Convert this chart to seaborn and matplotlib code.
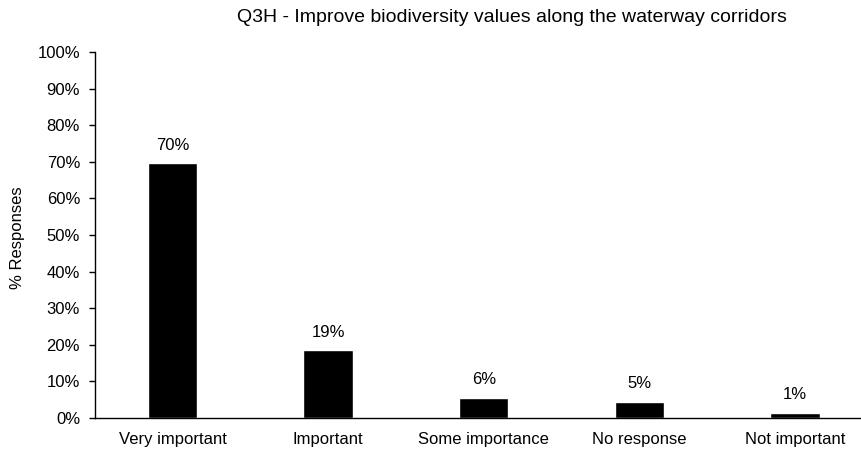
import matplotlib
matplotlib.use("Agg")
import matplotlib.pyplot as plt
import seaborn as sns
import pandas as pd
from matplotlib.ticker import PercentFormatter

# Survey responses
categories = ["Very important", "Important", "Some importance", "No response", "Not important"]
values = [69.6, 18.5, 5.5, 4.4, 1.4]
labels = ["70%", "19%", "6%", "5%", "1%"]

df = pd.DataFrame({"Category": categories, "Percent": values})

sns.set_style("white")
plt.rcParams["font.family"] = ["Liberation Sans", "DejaVu Sans"]
plt.rcParams["font.size"] = 12
plt.rcParams["text.color"] = "black"
plt.rcParams["axes.labelcolor"] = "black"
plt.rcParams["xtick.color"] = "black"
plt.rcParams["ytick.color"] = "black"

fig = plt.figure(figsize=(8.61, 4.5), dpi=100)
ax = fig.add_axes([94.7 / 861, 1 - 417.7 / 450, 778 / 861, 365.4 / 450])

sns.barplot(x="Category", y="Percent", data=df, color="black", width=0.318,
            saturation=1, ax=ax)

for i, lab in enumerate(labels):
    ax.text(i, values[i] + 2.8, lab, ha="center", va="bottom", fontsize=12, color="black")

ax.set_ylim(0, 100)
ax.set_xlim(-0.5, 4.5)
ax.set_yticks(range(0, 101, 10))
ax.yaxis.set_major_formatter(PercentFormatter(decimals=0))
ax.set_xlabel("")
ax.set_ylabel("% Responses", fontsize=12)
ax.yaxis.set_label_coords(-0.0896, 0.494)
ax.tick_params(axis="y", left=True, length=4, width=1, color="black", labelsize=12, pad=6.5)
ax.tick_params(axis="x", bottom=False, labelsize=12, pad=7)

for side in ["top", "right"]:
    ax.spines[side].set_visible(False)
for side in ["left", "bottom"]:
    ax.spines[side].set_color("black")
    ax.spines[side].set_linewidth(1)

fig.text(512 / 861, 1 - 18 / 450, "Q3H - Improve biodiversity values along the waterway corridors",
         ha="center", va="center", fontsize=14, color="black")

fig.savefig("out.png", dpi=100)
